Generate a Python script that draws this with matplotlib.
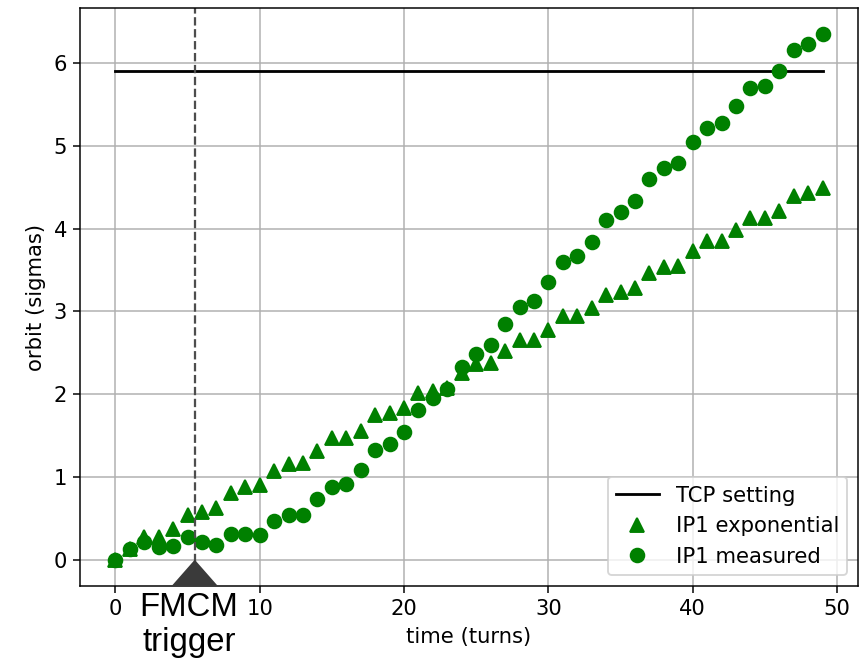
import matplotlib.pyplot as plt
from matplotlib.patches import Polygon
import numpy as np

# turns after the start
time_turns = list(range(50))

# exponential model (triangles)
ip1_exponential = [0.00, 0.13, 0.27, 0.27, 0.37, 0.54, 0.58, 0.63, 0.81, 0.88,
                   0.90, 1.07, 1.16, 1.17, 1.31, 1.47, 1.47, 1.56, 1.75, 1.77,
                   1.83, 2.02, 2.04, 2.07, 2.26, 2.36, 2.38, 2.52, 2.66, 2.66,
                   2.77, 2.94, 2.94, 3.04, 3.20, 3.24, 3.28, 3.46, 3.54, 3.55,
                   3.73, 3.85, 3.85, 3.98, 4.13, 4.13, 4.22, 4.39, 4.43, 4.49]

# measured orbit (circles)
ip1_measured = [0.00, 0.13, 0.21, 0.15, 0.17, 0.27, 0.21, 0.18, 0.31, 0.31,
                0.30, 0.47, 0.54, 0.54, 0.73, 0.88, 0.91, 1.09, 1.32, 1.40,
                1.54, 1.81, 1.95, 2.06, 2.33, 2.48, 2.59, 2.85, 3.05, 3.13,
                3.36, 3.60, 3.67, 3.84, 4.11, 4.20, 4.33, 4.60, 4.73, 4.80,
                5.05, 5.22, 5.28, 5.48, 5.70, 5.73, 5.91, 6.16, 6.23, 6.35]

tcp_setting = 5.91
trigger_turn = 5.5

plt.rcParams["font.size"] = 11.3

fig = plt.figure(figsize=(862 / 135, 661 / 135), dpi=135)
ax = fig.add_axes([0.0928, 0.1135, 0.9026, 0.8744])

ax.plot([time_turns[0], time_turns[-1]], [tcp_setting, tcp_setting], color="black", label="TCP setting")
ax.plot(time_turns, ip1_exponential, "^", color="green", markersize=7, label="IP1 exponential")
ax.plot(time_turns, ip1_measured, "o", color="green", markersize=7.3, label="IP1 measured")
ax.axvline(trigger_turn, color="0.3", linestyle="--", linewidth=1.2)

ax.grid(True)
ax.set_xlabel("time (turns)")
ax.set_ylabel("orbit (sigmas)")
ax.legend(loc="lower right")

# on fige les limites avant d'ajouter le marqueur du trigger
ax.set_xlim(ax.get_xlim())
ylo, yhi = ax.get_ylim()
ax.set_ylim(ylo, yhi)

tri = Polygon([[trigger_turn - 1.6, ylo], [trigger_turn + 1.6, ylo], [trigger_turn, 0]],
              closed=True, facecolor="#3a3a3a", edgecolor="none", clip_on=False, zorder=5)
ax.add_patch(tri)

ax.annotate("FMCM\ntrigger", xy=(trigger_turn - 0.4, 0), xycoords=("data", "axes fraction"),
            xytext=(0, -3), textcoords="offset points", ha="center", va="top",
            fontsize=17.5, family="Liberation Sans", linespacing=1.2)

fig.savefig("out.png", dpi=135)
